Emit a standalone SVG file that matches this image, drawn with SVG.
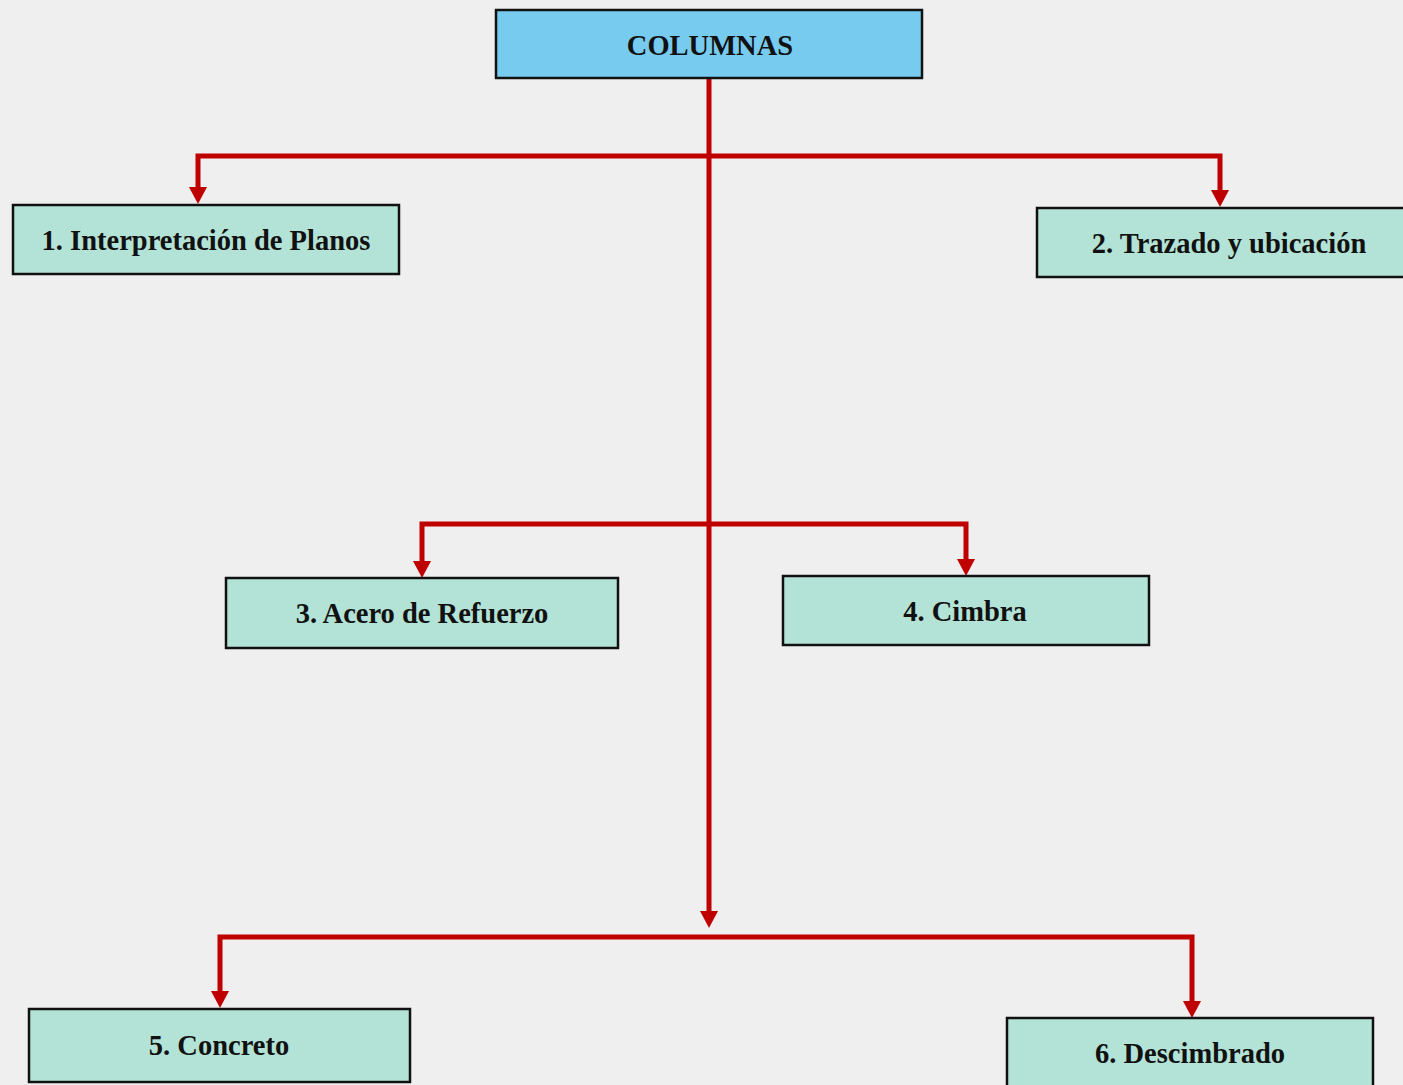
<svg xmlns="http://www.w3.org/2000/svg" width="1403" height="1085" viewBox="0 0 1403 1085">
  <style>
    .box { fill: #b3e3d6; stroke: #111; stroke-width: 2.5; }
    .root { fill: #77cbef; stroke: #111; stroke-width: 2.5; }
    .lbl { font-family: "Liberation Serif", "Times New Roman", serif; font-weight: bold; font-size: 28.5px; fill: #111; text-anchor: middle; }
    .wire { fill: none; stroke: #bf0000; stroke-width: 5; stroke-linejoin: miter; marker-end: url(#tip); }
  </style>
  <defs>
    <marker id="tip" markerUnits="userSpaceOnUse" viewBox="0 -9 17 18" refX="7" refY="0" markerWidth="17" markerHeight="18" orient="auto">
      <path d="M0,-9 L17,0 L0,9 Z" fill="#bf0000"/>
    </marker>
  </defs>
  <rect width="1403" height="1085" fill="#efefef"/>

  <g id="connectors">
    <path class="wire" d="M709,78 V918"/>
    <path class="wire" d="M709,156 H198 V194"/>
    <path class="wire" d="M709,156 H1220 V197"/>
    <path class="wire" d="M709,524 H422 V568"/>
    <path class="wire" d="M709,524 H966 V566"/>
    <path class="wire" d="M709,937 H220 V998"/>
    <path class="wire" d="M709,937 H1192 V1008"/>
  </g>

  <g id="columnas">
    <rect class="root" x="496" y="10" width="426" height="68"/>
    <text class="lbl" x="710" y="55">COLUMNAS</text>
  </g>
  <g id="n1">
    <rect class="box" x="13" y="205" width="386" height="69"/>
    <text class="lbl" x="206" y="250">1. Interpretación de Planos</text>
  </g>
  <g id="n2">
    <rect class="box" x="1037" y="208" width="380" height="69"/>
    <text class="lbl" x="1229" y="253">2. Trazado y ubicación</text>
  </g>
  <g id="n3">
    <rect class="box" x="226" y="578" width="392" height="70"/>
    <text class="lbl" x="422" y="623">3. Acero de Refuerzo</text>
  </g>
  <g id="n4">
    <rect class="box" x="783" y="576" width="366" height="69"/>
    <text class="lbl" x="965" y="621">4. Cimbra</text>
  </g>
  <g id="n5">
    <rect class="box" x="29" y="1009" width="381" height="73"/>
    <text class="lbl" x="219" y="1055">5. Concreto</text>
  </g>
  <g id="n6">
    <rect class="box" x="1007" y="1018" width="366" height="80"/>
    <text class="lbl" x="1190" y="1063">6. Descimbrado</text>
  </g>
</svg>
